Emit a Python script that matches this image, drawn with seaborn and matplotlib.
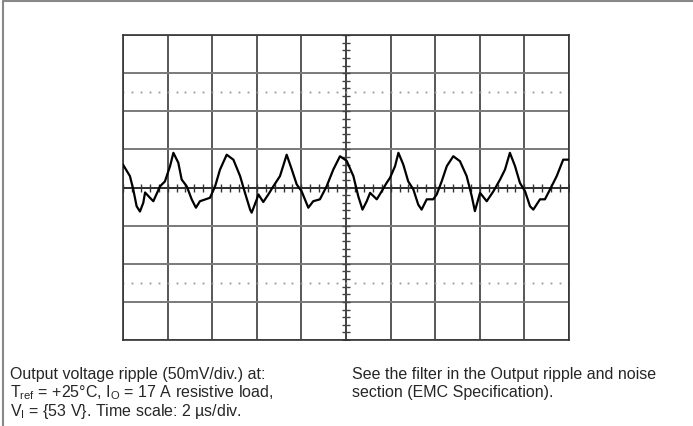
import matplotlib
matplotlib.use('Agg')
import matplotlib.pyplot as plt
from matplotlib.lines import Line2D
import numpy as np
import pandas as pd
import seaborn as sns

# scope trace: time in us (2 us/div), ripple in mV (50 mV/div)
time_us = [0.00, 0.31, 0.46, 0.61, 0.76, 0.91, 0.99, 1.21, 1.36, 1.66, 1.88, 2.11,
           2.26, 2.48, 2.63, 2.86, 3.08, 3.27, 3.45, 3.75, 3.90, 4.13, 4.35, 4.65,
           4.95, 5.25, 5.47, 5.70, 5.77, 6.00, 6.07, 6.29, 6.52, 6.74, 7.04, 7.34,
           7.57, 7.79, 8.01, 8.31, 8.53, 8.83, 9.13, 9.43, 9.73, 10.03, 10.33, 10.55,
           10.74, 10.93, 11.08, 11.38, 11.60, 11.82, 11.97, 12.20, 12.35, 12.57, 12.79,
           13.02, 13.24, 13.39, 13.62, 13.91, 14.07, 14.29, 14.52, 14.81, 15.11, 15.41,
           15.64, 15.78, 16.01, 16.31, 16.61, 16.91, 17.13, 17.35, 17.58, 17.80, 18.03,
           18.25, 18.40, 18.70, 18.92, 19.15, 19.45, 19.74, 19.97]
ripple_mv = [30, 15, -2.5, -24.5, -31.5, -20, -6.5, -13.5, -18, 1.5, 8, 28,
             45.5, 32.5, 10.5, 1.5, -15.5, -26.5, -18, -15, -13.5, 1.5, 23.5, 43,
             36.5, 15, -7, -29, -33, -15.5, -9, -19, -9, 1.5, 15, 43,
             23.5, 4, -5, -26.5, -18, -15.5, 1.5, 23.5, 41, 35, 15, -11.5,
             -29, -18, -7, -15.5, -5, 6, 12.5, 28, 45.5, 30, 8,
             -2.5, -22.5, -29, -15.5, -15.5, -9, 8, 28, 41, 34.5, 15,
             -11.5, -31, -7, -18, -5, 10.5, 23.5, 45.5, 28, 6, -5,
             -24.5, -29, -15.5, -15.5, -2.5, 15, 36.5, 36.5]

# screen graticule: 10 x 2 us, 8 x 50 mV, with dotted 2.5-div lines
div_t = np.arange(0, 21, 2)
div_v = np.arange(-200, 201, 50)
sub_t = np.arange(0, 20.01, 0.4)
sub_v = np.arange(-200, 200.1, 10)
dotted_v = [-125, 125]

caption_left = ["Output voltage ripple (50mV/div.) at:",
                r"T$_{\mathregular{ref}}$ = +25°C, I$_{\mathregular{O}}$ = 17 A resistive load,",
                r"V$_{\mathregular{I}}$ = {53 V}. Time scale: 2 µs/div."]
caption_right = ["See the filter in the Output ripple and noise",
                 "section (EMC Specification)."]

df = pd.DataFrame({'t': time_us, 'v': ripple_mv})

sns.set_style('white')
plt.rcParams['font.family'] = ['Liberation Sans', 'DejaVu Sans']

fig = plt.figure(figsize=(6.93, 4.27), dpi=100)
ax = fig.add_axes([123 / 693, 1 - 341 / 427, 446 / 693, 305 / 427])

ax.set_xlim(0, 20)
ax.set_ylim(-200, 200)
ax.set_xticks(div_t)
ax.set_yticks(div_v)
ax.grid(axis='x', color='#2a2a2a', lw=1.1)
ax.grid(axis='y', color='#7a7a7a', lw=1.4)
ax.tick_params(length=0, labelbottom=False, labelleft=False)
for s in ax.spines.values():
    s.set_color('#333333')
    s.set_linewidth(1.2)

# centre cross with small ticks
ax.axvline(10, color='#444444', lw=1.2, zorder=2)
ax.axhline(0, color='#222222', lw=1.2, zorder=2)
ax.plot(sub_t, np.zeros_like(sub_t), ls='none', marker='|', ms=5.5, mew=1.0, color='#333333', zorder=2)
ax.plot(np.full_like(sub_v, 10), sub_v, ls='none', marker='_', ms=5.5, mew=1.0, color='#444444', zorder=2)
for v in dotted_v:
    ax.plot(sub_t, np.full_like(sub_t, v), ls='none', marker='s', ms=1.3, mew=0, color='#999999', zorder=2)

sns.lineplot(data=df, x='t', y='v', sort=False, estimator=None, color='black', lw=1.6, ax=ax, zorder=3)
ax.set_xlabel('')
ax.set_ylabel('')

for i, line in enumerate(caption_left):
    fig.text(10 / 693, 1 - (379 + 18.5 * i) / 427, line, fontsize=11.5, va='baseline', ha='left')
for i, line in enumerate(caption_right):
    fig.text(352 / 693, 1 - (379 + 18.5 * i) / 427, line, fontsize=11.5, va='baseline', ha='left')

# page frame, top and left edges only
fig.add_artist(Line2D([3 / 693, 3 / 693], [0, 1 - 1.5 / 427], transform=fig.transFigure, color='#888888', lw=1.5))
fig.add_artist(Line2D([3 / 693, 1], [1 - 1.5 / 427, 1 - 1.5 / 427], transform=fig.transFigure, color='#888888', lw=1.5))

fig.savefig('out.png', dpi=100)
